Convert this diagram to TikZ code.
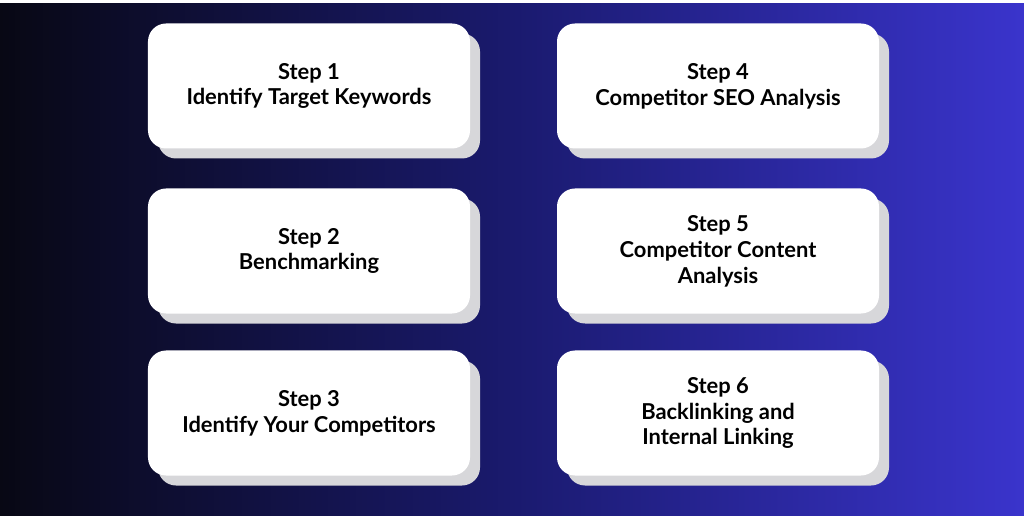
\documentclass[tikz,border=0pt]{standalone}
\usepackage{fontspec}
\setmainfont{Lato}
\usetikzlibrary{shadows,backgrounds}
\definecolor{bgleft}{RGB}{8,8,20}
\definecolor{bgmid}{RGB}{26,26,110}
\definecolor{bgright}{RGB}{58,52,204}
\definecolor{dotblue}{RGB}{150,165,225}
\definecolor{shadowgray}{RGB}{215,215,218}
\tikzset{
  stepbox/.style = {shape=rectangle, rounded corners=18bp, fill=white,
                 minimum width=322bp, minimum height=125bp, align=center,
                 font=\fontsize{22}{26}\selectfont\bfseries,
                 drop shadow={shadow xshift=10bp, shadow yshift=-10bp,
                              fill=shadowgray, opacity=1}},
  dots/.style = {draw=dotblue, line width=7bp, line cap=round,
                 dash pattern=on 0bp off 17.5bp}
}
\begin{document}
\begin{tikzpicture}[x=1bp, y=-1bp]
  \shade[left color=bgleft, right color=bgright, middle color=bgmid]
    (0,0) rectangle (1024,512);

  \node [stepbox] (s1) at (309,82.5)  {Step 1\\Identify Target Keywords};
  \node [stepbox] (s2) at (309,247.5) {Step 2\\Benchmarking};
  \node [stepbox] (s3) at (309,409.5) {Step 3\\Identify Your Competitors};
  \node [stepbox] (s4) at (718,82.5)  {Step 4\\Competitor SEO Analysis};
  \node [stepbox] (s5) at (718,247.5) {Step 5\\Competitor Content\\Analysis};
  \node [stepbox] (s6) at (718,409.5) {Step 6\\Backlinking and\\Internal Linking};
  \coordinate (mid) at (510,0);

  \begin{scope}[on background layer]
    \draw [dots] (s1.south) ++(4,0) -- ++(0,40);
    \draw [dots] (s2.south) ++(4,0) -- ++(0,40);
    \draw [dots] (s4.south) -- (s5.north);
    \draw [dots] (s5.south) -- (s6.north);
    \draw [dots] (s3.east) -| (mid) |- (s4.west);
  \end{scope}
\end{tikzpicture}
\end{document}
